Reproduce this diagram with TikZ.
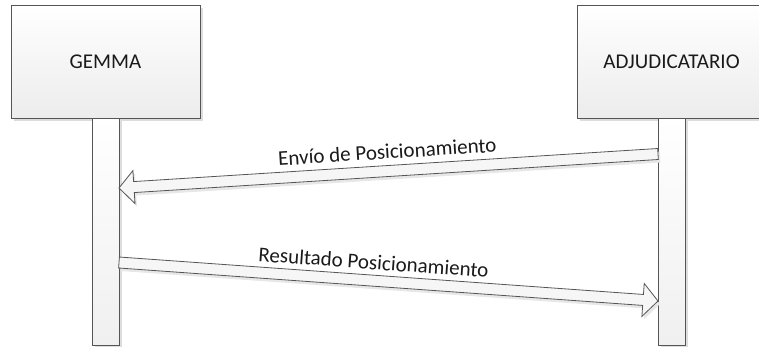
\documentclass[tikz,border=0pt]{standalone}
\usepackage{fontspec}
\setmainfont{Carlito}
\usepackage{tikz}
\usetikzlibrary{positioning,calc,shadows}
\definecolor{sline}{HTML}{555555}
\definecolor{sshade}{HTML}{ECECEC}
\definecolor{sshadow}{HTML}{DDDDDD}
\definecolor{stext}{HTML}{1A1A1A}

\newcommand{\msgarrow}[2]{%
  \coordinate (hb) at ($(#2)!15pt!(#1)$);
  \draw[msg_] ($(#1)!5.5pt!90:(#2)$) -- ($(hb)!5.5pt!90:(#2)$) -- ($(hb)!16.5pt!90:(#2)$)
    -- (#2) -- ($(hb)!16.5pt!-90:(#2)$) -- ($(hb)!5.5pt!-90:(#2)$) -- ($(#1)!5.5pt!-90:(#2)$) -- cycle;
}

\begin{document}
\begin{tikzpicture}[x=1pt, y=-1pt,
  shadow_/.style={drop shadow={shadow xshift=3pt, shadow yshift=-3pt, fill=sshadow, opacity=1}},
  box_/.style={rectangle, draw=sline, line width=0.8pt, top color=white, bottom color=sshade,
    minimum width=189pt, minimum height=113pt, outer sep=0pt, text=stext,
    font=\fontsize{21pt}{25pt}\selectfont, shadow_},
  life_/.style={rectangle, draw=sline, line width=0.8pt, top color=white, bottom color=sshade!80,
    minimum width=27pt, minimum height=227pt, outer sep=0pt, inner sep=0pt, shadow_},
  msg_/.style={draw=sline, line width=0.8pt, fill=sshade!45, line join=miter,
    drop shadow={shadow xshift=2pt, shadow yshift=-3pt, fill=sshadow!70, opacity=1}},
  lbl_/.style={inner sep=0pt, text depth=0pt, text=stext, font=\fontsize{21pt}{25pt}\selectfont}
]
\useasboundingbox (0,0) rectangle (759,346);

\node[box_] (gemma) at (105.5,61.5) {GEMMA};
\node[box_] (adj) at (671.5,61.5) {ADJUDICATARIO};
\node[life_, below=0pt of gemma] (gemline) {};
\node[life_, below=0pt of adj] (adjline) {};

\coordinate (envS) at (adjline.west |- 0,154);
\coordinate (envT) at (gemline.east |- 0,188);
\coordinate (resS) at (gemline.east |- 0,262.5);
\coordinate (resT) at (adjline.west |- 0,301);

\msgarrow{envS}{envT}
\msgarrow{resS}{resT}

\path (envS) -- (envT) node[lbl_, midway, sloped, above=12pt] {Envío de Posicionamiento};
\path (resS) -- (resT) node[lbl_, pos=0.47, sloped, above=11pt] {Resultado Posicionamiento};
\end{tikzpicture}
\end{document}
